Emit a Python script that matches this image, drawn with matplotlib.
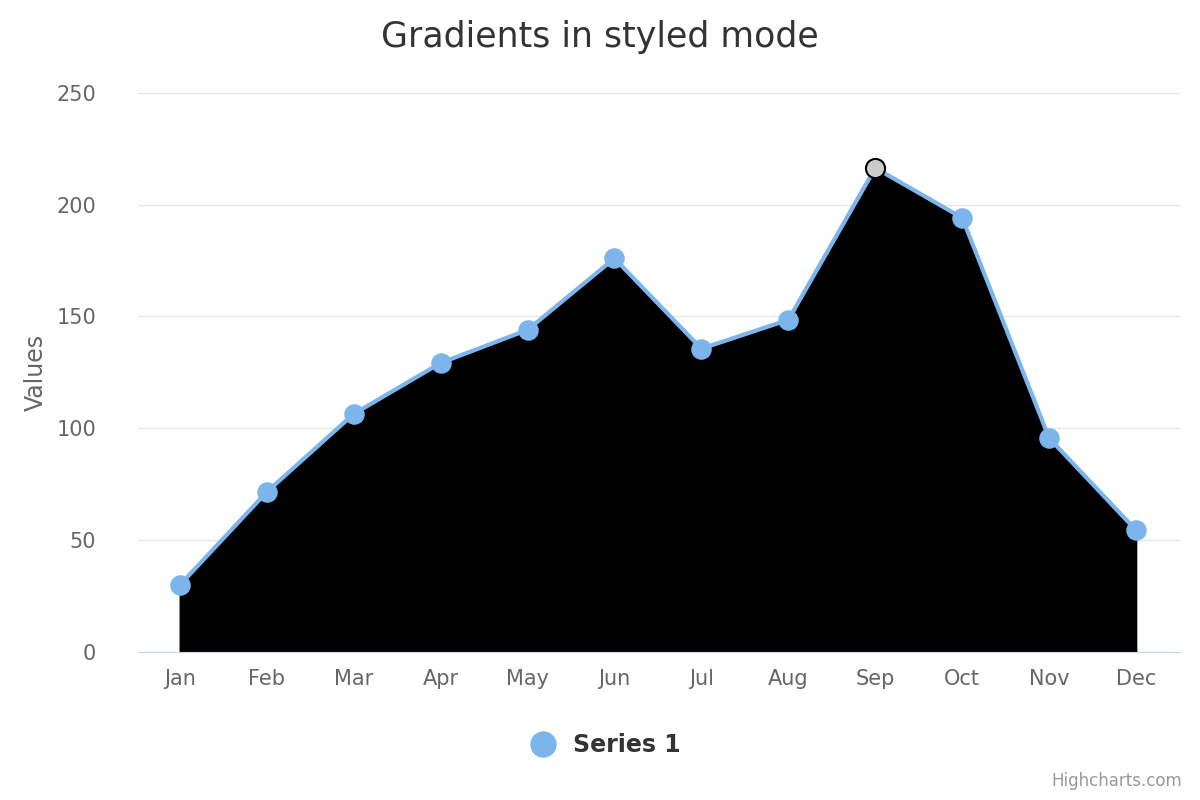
import matplotlib
matplotlib.use("Agg")
import matplotlib.pyplot as plt
from matplotlib.lines import Line2D

months = ["Jan", "Feb", "Mar", "Apr", "May", "Jun", "Jul", "Aug", "Sep", "Oct", "Nov", "Dec"]
values = [29.9, 71.5, 106.4, 129.2, 144.0, 176.0, 135.6, 148.5, 216.4, 194.1, 95.6, 54.4]
highlight = 8  # Sep, drawn in hover state

plt.rcParams["font.family"] = "DejaVu Sans"
fig = plt.figure(figsize=(12, 8), dpi=100)
ax = fig.add_axes([0.115, 0.185, 0.868, 0.699])

x = list(range(len(months)))
ax.fill_between(x, values, 0, color="black", zorder=2)
ax.plot(x, values, color="#7cb5ec", lw=3, zorder=3)
ax.scatter([i for i in x if i != highlight], [v for i, v in enumerate(values) if i != highlight],
           s=190, color="#7cb5ec", zorder=4)
ax.scatter([highlight], [values[highlight]], s=190, color="#cccccc", edgecolor="black", lw=1.5, zorder=5)

ax.set_xlim(-0.48, 11.5)
ax.set_ylim(0, 250)
ax.set_yticks(range(0, 251, 50))
ax.set_xticks(x)
ax.set_xticklabels(months)
ax.grid(axis="y", color="#e6e6e6", lw=1, zorder=0)
ax.set_axisbelow(True)
for s in ("top", "right", "left"):
    ax.spines[s].set_visible(False)
ax.spines["bottom"].set_color("#ccd6eb")
ax.tick_params(axis="both", length=0, labelsize=15, colors="#666666", pad=12)
ax.tick_params(axis="y", pad=30)
ax.set_ylabel("Values", fontsize=17, color="#666666", labelpad=6)

fig.suptitle("Gradients in styled mode", fontsize=25, color="#333333", y=0.975)

handle = Line2D([], [], marker="o", ls="none", markersize=18, color="#7cb5ec")
fig.legend([handle], ["Series 1"], loc="center", bbox_to_anchor=(0.5, 0.069), frameon=False,
           prop={"size": 17, "weight": "bold"}, labelcolor="#333333", handletextpad=0.3)
fig.text(0.985, 0.012, "Highcharts.com", ha="right", va="bottom", fontsize=12, color="#999999")

fig.savefig("out.png")
